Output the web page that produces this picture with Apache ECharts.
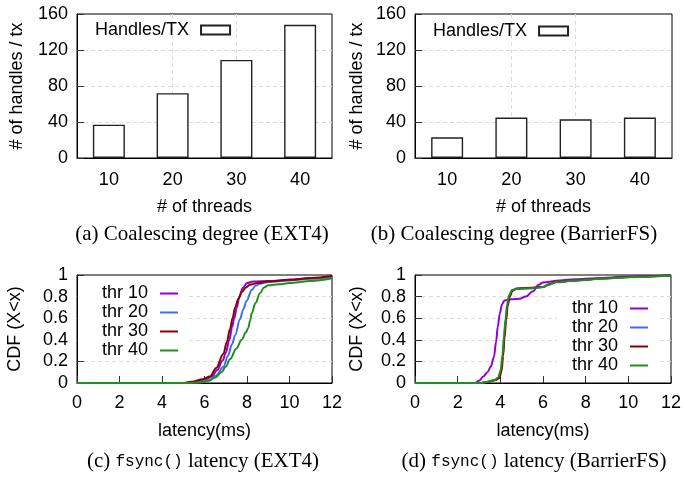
<!DOCTYPE html>
<html>
<head>
<meta charset="utf-8">
<script src="https://cdn.jsdelivr.net/npm/echarts@6/dist/echarts.min.js"></script>
<style>html,body{margin:0;padding:0;background:#fff}#c{width:684px;height:481px}</style>
</head>
<body>
<div id="c"></div>
<script>
// ---- data ----
var threadCats = ['10', '20', '30', '40'];
var handlesExt4 = [37, 72, 109, 148];
var handlesBfs = [23, 45, 43, 45];
var barTicks = [0, 40, 80, 120, 160];
var cdfTicksX = [0, 2, 4, 6, 8, 10, 12];
var seriesNames = ['thr 10', 'thr 20', 'thr 30', 'thr 40'];

// EXT4 fsync latency CDF  [latency(ms), CDF]
var ext4Thr10 = [[0,0],[5.0,0],[5.5,0.01],[6.0,0.03],[6.34,0.06],[6.6,0.12],[6.86,0.21],[7.0,0.28],[7.17,0.40],[7.3,0.52],[7.4,0.60],[7.52,0.70],[7.64,0.80],[7.8,0.88],[8.0,0.925],[8.3,0.94],[9,0.945],[10,0.955],[11,0.97],[12,0.985]];
var ext4Thr20 = [[0,0],[5.2,0],[5.7,0.008],[6.2,0.025],[6.55,0.07],[6.89,0.15],[7.1,0.25],[7.3,0.36],[7.44,0.44],[7.67,0.59],[7.82,0.68],[7.98,0.76],[8.22,0.86],[8.4,0.90],[8.61,0.92],[9,0.935],[10,0.95],[11,0.965],[12,0.98]];
var ext4Thr30 = [[0,0],[5.0,0],[5.5,0.015],[5.9,0.035],[6.26,0.06],[6.55,0.14],[6.89,0.27],[7.05,0.38],[7.2,0.50],[7.32,0.60],[7.44,0.70],[7.6,0.78],[7.75,0.84],[7.95,0.885],[8.14,0.91],[8.5,0.925],[9,0.94],[10,0.955],[11,0.972],[12,0.99]];
var ext4Thr40 = [[0,0],[5.2,0],[5.8,0.005],[6.2,0.02],[6.5,0.05],[6.8,0.10],[7.0,0.15],[7.2,0.22],[7.5,0.32],[7.75,0.40],[7.95,0.47],[8.06,0.51],[8.15,0.58],[8.22,0.645],[8.4,0.74],[8.61,0.83],[8.8,0.885],[9.0,0.905],[9.5,0.915],[10,0.925],[11,0.945],[12,0.97]];

// BarrierFS fsync latency CDF
var bfsThr10 = [[0,0],[2.8,0],[3.0,0.02],[3.2,0.06],[3.4,0.10],[3.55,0.15],[3.7,0.24],[3.8,0.38],[3.88,0.52],[3.97,0.64],[4.08,0.73],[4.2,0.765],[4.5,0.775],[4.9,0.78],[5.2,0.80],[5.53,0.85],[5.8,0.91],[6.0,0.93],[6.78,0.95],[7.5,0.96],[8.5,0.97],[10,0.985],[11,0.99],[12,0.995]];
var bfsThr20 = [[0,0],[3.1,0],[3.35,0.01],[3.7,0.025],[3.9,0.045],[4.03,0.11],[4.11,0.25],[4.18,0.42],[4.25,0.58],[4.33,0.72],[4.42,0.80],[4.55,0.855],[4.75,0.87],[5.5,0.88],[6.0,0.89],[6.3,0.915],[6.6,0.935],[7.5,0.95],[9,0.97],[10,0.982],[12,0.995]];
var bfsThr30 = [[0,0],[3.1,0],[3.4,0.01],[3.75,0.025],[3.95,0.045],[4.06,0.11],[4.13,0.25],[4.2,0.42],[4.27,0.58],[4.35,0.72],[4.44,0.80],[4.57,0.855],[4.77,0.875],[5.5,0.882],[6.0,0.89],[6.3,0.915],[6.6,0.935],[7.5,0.95],[9,0.97],[10,0.982],[12,0.995]];
var bfsThr40 = [[0,0],[3.1,0],[3.35,0.01],[3.7,0.025],[3.9,0.05],[4.02,0.12],[4.1,0.26],[4.17,0.43],[4.24,0.59],[4.32,0.73],[4.41,0.81],[4.54,0.86],[4.75,0.872],[5.5,0.878],[6.0,0.888],[6.3,0.912],[6.6,0.932],[7.5,0.948],[9,0.968],[10,0.98],[12,0.993]];

var lineColors = ['#9400d3', '#3f6fe8', '#8b0000', '#1f8f1f'];

// ---- styling ----
var SANS = '"Liberation Sans", Arial, sans-serif';
var SERIF = '"Liberation Serif", "Times New Roman", serif';
var MONO = '"Liberation Mono", "DejaVu Sans Mono", monospace';
var FS = 18;
var gridDash = { color: '#dcdcdc', type: [4, 3], width: 1 };

function barX(idx) {
  return {
    type: 'category', gridIndex: idx, data: threadCats,
    axisLine: { show: true, lineStyle: { color: '#000', width: 1 } },
    axisTick: { show: true, inside: true, alignWithLabel: true, length: 7, lineStyle: { color: '#333' } },
    axisLabel: { color: '#000', fontFamily: SANS, fontSize: FS, margin: 13 },
    splitLine: { show: true, alignWithLabel: true, showMinLine: false, showMaxLine: false, lineStyle: gridDash },
    name: '# of threads', nameLocation: 'middle', nameGap: 40,
    nameTextStyle: { color: '#000', fontFamily: SANS, fontSize: FS }
  };
}
function barY(idx, gap) {
  return {
    type: 'value', gridIndex: idx, min: barTicks[0], max: barTicks[barTicks.length - 1], interval: 40,
    axisLine: { show: true, lineStyle: { color: '#000', width: 1 } },
    axisTick: { show: true, inside: true, length: 7, lineStyle: { color: '#333' } },
    axisLabel: { color: '#000', fontFamily: SANS, fontSize: FS, margin: 9 },
    splitLine: { show: true, showMinLine: false, showMaxLine: false, lineStyle: gridDash },
    name: '# of handles / tx', nameLocation: 'middle', nameGap: gap,
    nameTextStyle: { color: '#000', fontFamily: SANS, fontSize: FS }
  };
}
function cdfX(idx) {
  return {
    type: 'value', gridIndex: idx, min: cdfTicksX[0], max: cdfTicksX[cdfTicksX.length - 1], interval: 2,
    axisLine: { show: true, onZero: false, lineStyle: { color: '#000', width: 1 } },
    axisTick: { show: true, inside: true, length: 7, lineStyle: { color: '#333' } },
    axisLabel: { color: '#000', fontFamily: SANS, fontSize: FS, margin: 11 },
    splitLine: { show: false },
    name: 'latency(ms)', nameLocation: 'middle', nameGap: 39,
    nameTextStyle: { color: '#000', fontFamily: SANS, fontSize: FS }
  };
}
function cdfY(idx, gap) {
  return {
    type: 'value', gridIndex: idx, min: 0, max: 1, interval: 0.2,
    axisLine: { show: true, lineStyle: { color: '#000', width: 1 } },
    axisTick: { show: true, inside: true, length: 7, lineStyle: { color: '#333' } },
    axisLabel: { color: '#000', fontFamily: SANS, fontSize: FS, margin: 9 },
    splitLine: { show: true, showMinLine: false, showMaxLine: false, lineStyle: gridDash },
    name: 'CDF (X<x)', nameLocation: 'middle', nameGap: gap,
    nameTextStyle: { color: '#000', fontFamily: SANS, fontSize: FS }
  };
}
function barSeries(idx, vals) {
  return {
    type: 'bar', name: 'Handles/TX', xAxisIndex: idx, yAxisIndex: idx, data: vals,
    barWidth: 32, itemStyle: { color: '#fff', borderColor: '#222', borderWidth: 1.4 },
    z: 3
  };
}
function cdfSeries(idx, name, data, color) {
  return {
    type: 'line', name: name, xAxisIndex: idx, yAxisIndex: idx, data: data,
    showSymbol: false, symbol: 'none', smooth: 0.35, smoothMonotone: 'x',
    lineStyle: { color: color, width: 2 }, itemStyle: { color: color }, z: 3
  };
}
function caption(cx, cy, label, mono, rest) {
  var parts = mono ? '{s|' + label + ' }{m|' + mono + '}{s|' + rest + '}' : '{s|' + label + rest + '}';
  return {
    text: parts, left: cx, top: cy, textAlign: 'center', padding: 0,
    textStyle: {
      fontWeight: 'normal',
      rich: {
        s: { fontFamily: SERIF, fontSize: 21, fontWeight: 'normal', color: '#000' },
        m: { fontFamily: MONO, fontSize: 16, fontWeight: 'normal', color: '#000' }
      }
    }
  };
}

var legendText = { color: '#000', fontFamily: SANS, fontSize: FS, padding: [0, 7, 0, 0] };

var option = {
  animation: false,
  backgroundColor: '#fff',
  grid: [
    { left: 77, top: 14, width: 255, height: 144, show: true, borderColor: '#000', borderWidth: 1, backgroundColor: 'transparent' },
    { left: 415, top: 14, width: 257, height: 144, show: true, borderColor: '#000', borderWidth: 1, backgroundColor: 'transparent' },
    { left: 77, top: 275, width: 255, height: 108, show: true, borderColor: '#000', borderWidth: 1, backgroundColor: 'transparent' },
    { left: 415, top: 275, width: 257, height: 108, show: true, borderColor: '#000', borderWidth: 1, backgroundColor: 'transparent' }
  ],
  xAxis: [barX(0), barX(1), cdfX(2), cdfX(3)],
  yAxis: [barY(0, 51), barY(1, 49), cdfY(2, 53), cdfY(3, 49)],
  legend: [
    { data: ['Handles/TX'], left: 95, top: 21, padding: 0, align: 'right', icon: 'rect',
      itemWidth: 29, itemHeight: 9, textStyle: legendText, selectedMode: false },
    { data: ['Handles/TX'], left: 433, top: 22, padding: 0, align: 'right', icon: 'rect',
      itemWidth: 29, itemHeight: 9, textStyle: legendText, selectedMode: false },
    { data: seriesNames, orient: 'vertical', left: 78, top: 283, padding: [1, 10, 0, 24], align: 'right',
      icon: 'rect', itemWidth: 18, itemHeight: 2, itemGap: 0, backgroundColor: '#fff',
      textStyle: Object.assign({}, legendText, { lineHeight: 19 }), selectedMode: false },
    { data: seriesNames, orient: 'vertical', left: 557, top: 299, padding: [0, 10, 0, 15], align: 'right',
      icon: 'rect', itemWidth: 18, itemHeight: 2, itemGap: 0, backgroundColor: '#fff',
      textStyle: Object.assign({}, legendText, { lineHeight: 19 }), selectedMode: false }
  ],
  title: [
    caption(202, 224, '(a) Coalescing degree (EXT4)', null, ''),
    caption(514, 224, '(b) Coalescing degree (BarrierFS)', null, ''),
    caption(203, 451, '(c)', 'fsync()', ' latency (EXT4)'),
    caption(534, 451, '(d)', 'fsync()', ' latency (BarrierFS)')
  ],
  series: [
    barSeries(0, handlesExt4),
    barSeries(1, handlesBfs),
    cdfSeries(2, seriesNames[0], ext4Thr10, lineColors[0]),
    cdfSeries(2, seriesNames[1], ext4Thr20, lineColors[1]),
    cdfSeries(2, seriesNames[2], ext4Thr30, lineColors[2]),
    cdfSeries(2, seriesNames[3], ext4Thr40, lineColors[3]),
    cdfSeries(3, seriesNames[0], bfsThr10, lineColors[0]),
    cdfSeries(3, seriesNames[1], bfsThr20, lineColors[1]),
    cdfSeries(3, seriesNames[2], bfsThr30, lineColors[2]),
    cdfSeries(3, seriesNames[3], bfsThr40, lineColors[3])
  ]
};

var chart = echarts.init(document.getElementById('c'), null, { renderer: 'canvas' });
chart.setOption(option);
</script>
</body>
</html>
